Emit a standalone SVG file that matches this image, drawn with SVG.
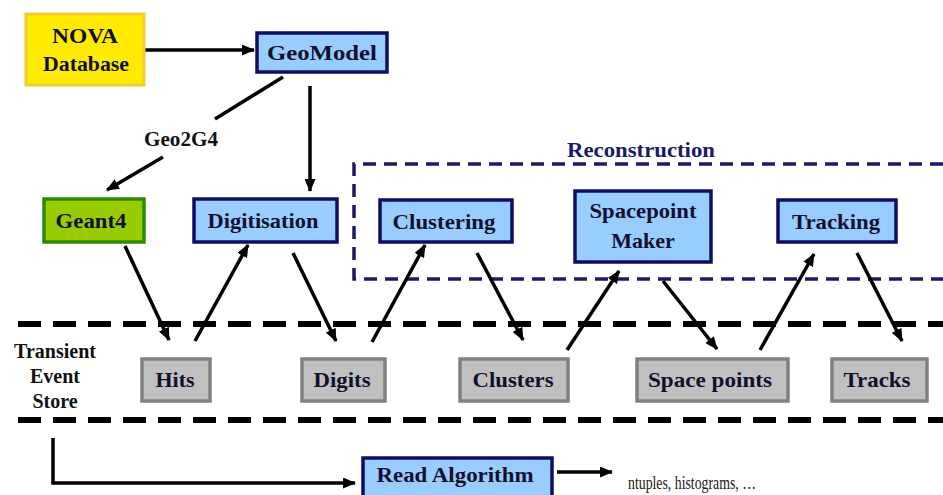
<svg xmlns="http://www.w3.org/2000/svg" width="943" height="495" viewBox="0 0 943 495" font-family="'Liberation Serif', 'DejaVu Serif', serif">
<defs>
<marker id="ah" markerWidth="13" markerHeight="11" refX="12" refY="5.5" orient="auto" markerUnits="userSpaceOnUse">
<path d="M0,0 L13,5.5 L0,11 Z" fill="#000"/>
</marker>
<style>
text{font-family:'Liberation Serif','Times New Roman','DejaVu Serif',serif;font-weight:bold;text-anchor:middle}
.lbl{font-size:22px;fill:#10102E}
.blue{fill:#99CCFF;stroke:#0E0E60;stroke-width:3.5}
.gray{fill:#C0C0C0;stroke:#808080;stroke-width:3.5}
.conn{stroke:#000;stroke-width:3.5;fill:none}
.sep{stroke:#000;stroke-width:6;stroke-dasharray:23 12;fill:none}
</style>
</defs>
<rect width="943" height="495" fill="#fff"/>

<g id="reconstruction">
<path d="M943,164 H354 V279 H943" fill="none" stroke="#1A1A66" stroke-width="3.5" stroke-dasharray="13 8"/>
<text x="641" y="157" font-size="21" fill="#1A1A66" textLength="148" lengthAdjust="spacingAndGlyphs">Reconstruction</text>
</g>

<g id="separators">
<line x1="18" y1="324" x2="943" y2="324" class="sep"/>
<line x1="18" y1="420" x2="943" y2="420" class="sep"/>
</g>

<g id="connectors">
<line x1="144" y1="50" x2="254" y2="50" class="conn" marker-end="url(#ah)"/>
<line x1="283" y1="77" x2="215" y2="119" class="conn"/>
<line x1="163" y1="157" x2="107" y2="190" class="conn" marker-end="url(#ah)"/>
<line x1="310" y1="86" x2="310" y2="191" class="conn" marker-end="url(#ah)"/>
<line x1="125" y1="246" x2="169" y2="340" class="conn" marker-end="url(#ah)"/>
<line x1="195" y1="341" x2="248" y2="245" class="conn" marker-end="url(#ah)"/>
<line x1="293" y1="253" x2="336" y2="341" class="conn" marker-end="url(#ah)"/>
<line x1="372" y1="342" x2="425" y2="245" class="conn" marker-end="url(#ah)"/>
<line x1="477" y1="253" x2="523" y2="340" class="conn" marker-end="url(#ah)"/>
<line x1="567" y1="350" x2="619" y2="271" class="conn" marker-end="url(#ah)"/>
<line x1="663" y1="281" x2="717" y2="349" class="conn" marker-end="url(#ah)"/>
<line x1="760" y1="350" x2="814" y2="254" class="conn" marker-end="url(#ah)"/>
<line x1="857" y1="253" x2="902" y2="341" class="conn" marker-end="url(#ah)"/>
<path d="M53,438 V483 H355" class="conn" marker-end="url(#ah)"/>
<line x1="557" y1="472" x2="612" y2="472" class="conn" marker-end="url(#ah)"/>
<text x="181" y="146" font-size="20" fill="#111" textLength="74" lengthAdjust="spacingAndGlyphs">Geo2G4</text>
</g>

<g id="nova">
<rect x="26" y="14" width="118" height="71" fill="#FFEA00" stroke="#F0CC30" stroke-width="3"/>
<text x="85" y="43" class="lbl" textLength="66" lengthAdjust="spacingAndGlyphs">NOVA</text>
<text x="86" y="71" class="lbl" textLength="86" lengthAdjust="spacingAndGlyphs">Database</text>
</g>

<g id="geomodel">
<rect x="257" y="33" width="130" height="39" class="blue"/>
<text x="322" y="60" class="lbl" textLength="110" lengthAdjust="spacingAndGlyphs">GeoModel</text>
</g>

<g id="geant4">
<rect x="44" y="199" width="100" height="43" fill="#99CC00" stroke="#2E8B00" stroke-width="3.5"/>
<text x="91" y="228" class="lbl" textLength="71" lengthAdjust="spacingAndGlyphs">Geant4</text>
</g>

<g id="digitisation">
<rect x="194" y="199" width="143" height="43" class="blue"/>
<text x="263" y="228" class="lbl" textLength="111" lengthAdjust="spacingAndGlyphs">Digitisation</text>
</g>

<g id="clustering">
<rect x="380" y="200" width="132" height="42" class="blue"/>
<text x="444" y="229" class="lbl" textLength="103" lengthAdjust="spacingAndGlyphs">Clustering</text>
</g>

<g id="spacepoint-maker">
<rect x="575" y="191" width="136" height="71" class="blue"/>
<text x="643" y="218" class="lbl" textLength="107" lengthAdjust="spacingAndGlyphs">Spacepoint</text>
<text x="643" y="248" class="lbl">Maker</text>
</g>

<g id="tracking">
<rect x="778" y="200" width="118" height="42" class="blue"/>
<text x="836" y="229" class="lbl" textLength="88" lengthAdjust="spacingAndGlyphs">Tracking</text>
</g>

<g id="store-label">
<text x="55" y="358" font-size="20" fill="#111">Transient</text>
<text x="55" y="383" font-size="20" fill="#111">Event</text>
<text x="55" y="408" font-size="20" fill="#111">Store</text>
</g>

<g id="hits">
<rect x="142" y="359" width="68" height="42" class="gray"/>
<text x="175" y="387" class="lbl" textLength="39" lengthAdjust="spacingAndGlyphs">Hits</text>
</g>

<g id="digits">
<rect x="302" y="359" width="83" height="42" class="gray"/>
<text x="342" y="387" class="lbl" textLength="57" lengthAdjust="spacingAndGlyphs">Digits</text>
</g>

<g id="clusters">
<rect x="460" y="359" width="108" height="42" class="gray"/>
<text x="513" y="387" class="lbl" textLength="81" lengthAdjust="spacingAndGlyphs">Clusters</text>
</g>

<g id="space-points">
<rect x="637" y="359" width="151" height="42" class="gray"/>
<text x="710" y="387" class="lbl" textLength="124" lengthAdjust="spacingAndGlyphs">Space points</text>
</g>

<g id="tracks">
<rect x="832" y="359" width="95" height="42" class="gray"/>
<text x="877" y="387" class="lbl" textLength="67" lengthAdjust="spacingAndGlyphs">Tracks</text>
</g>

<g id="read-algorithm">
<rect x="363" y="458" width="189" height="45" class="blue"/>
<text x="455" y="482" class="lbl" textLength="157" lengthAdjust="spacingAndGlyphs">Read Algorithm</text>
</g>

<g id="output">
<text x="628" y="489" font-size="18" fill="#222" style="text-anchor:start;font-weight:normal" textLength="128" lengthAdjust="spacingAndGlyphs">ntuples, histograms, …</text>
</g>
</svg>
